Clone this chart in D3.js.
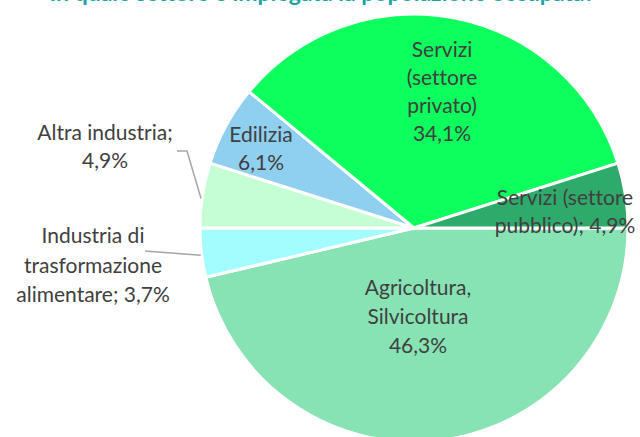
<!DOCTYPE html>
<html><head><meta charset="utf-8">
<script src="https://cdn.jsdelivr.net/npm/d3@7"></script>
<style>html,body{margin:0;padding:0;background:#fff;overflow:hidden} text{font-variant-ligatures:none}</style>
</head><body>
<svg id="chart" width="640" height="437"></svg>
<script>
const categories = ["Agricoltura, Silvicoltura","Industria di trasformazione alimentare","Altra industria","Edilizia","Servizi (settore privato)","Servizi (settore pubblico)"];
const values = [46.3, 3.7, 4.9, 6.1, 34.1, 4.9];
const colors = ["#88E3B4","#A3FDFF","#C5FDD5","#8FCFEF","#0DFF5D","#2EAA6B"];
const labelLines = [
  ["Agricoltura,","Silvicoltura","46,3%"],
  ["Industria di","trasformazione","alimentare; 3,7%"],
  ["Altra industria;","4,9%"],
  ["Edilizia","6,1%"],
  ["Servizi","(settore","privato)","34,1%"],
  ["Servizi (settore","pubblico); 4,9%"]
];
const title = "In quale settore è impiegata la popolazione occupata?";

const svg = d3.select("#chart");
const cx = 414, cy = 228, r = 214;
const g = svg.append("g").attr("transform", `translate(${cx},${cy})`);
const pie = d3.pie().sort(null).startAngle(Math.PI/2).endAngle(Math.PI/2 + 2*Math.PI);
const arcs = pie(values);
const arc = d3.arc().innerRadius(0).outerRadius(r);
g.selectAll("path").data(arcs).join("path")
  .attr("d", arc).attr("fill", (d,i)=>colors[i])
  .attr("stroke", "#fff").attr("stroke-width", 3).attr("stroke-linejoin","round");

// label anchor offsets from the pie centre (first baseline), line height
const labelPos = [
  {x: 4,    y: 67,   lh: 29},
  {x: -321, y: 15,   lh: 29.5},
  {x: -309, y: -88,  lh: 28},
  {x: -153, y: -86,  lh: 28},
  {x: 28,   y: -171, lh: 28},
  {x: 151,  y: -23,  lh: 28}
];
const fontFamily = "Lato, 'Open Sans', sans-serif";
arcs.forEach((d,i)=>{
  const p = labelPos[i];
  const t = g.append("text").attr("text-anchor","middle")
    .attr("font-family", fontFamily).attr("font-size", 21).attr("fill", "#404040");
  labelLines[i].forEach((ln,k)=>{
    t.append("tspan").attr("x", p.x).attr("y", p.y + k*p.lh).text(ln);
  });
});

// leader lines
const leader = d3.line();
function edgePoint(d, frac){ const a = d.startAngle + (d.endAngle-d.startAngle)*frac; return [Math.sin(a)*r, -Math.cos(a)*r]; }
const pAlt = edgePoint(arcs[2], 0.45);
g.append("path").attr("d", leader([[177-cx,151-cy],[187-cx,151-cy],[pAlt[0]-1,pAlt[1]]]))
  .attr("fill","none").attr("stroke","#A6A6A6").attr("stroke-width",1.5);
const pTr = edgePoint(arcs[1], 0.45);
g.append("path").attr("d", leader([[145-cx,251-cy],[pTr[0]-1,pTr[1]]]))
  .attr("fill","none").attr("stroke","#A6A6A6").attr("stroke-width",1.5);

svg.append("text").attr("x", 322).attr("y", 1).attr("text-anchor","middle")
  .attr("font-family", fontFamily).attr("font-weight","bold").attr("font-size", 23)
  .attr("fill", "#1AA3A3").text(title);
</script>
</body></html>
